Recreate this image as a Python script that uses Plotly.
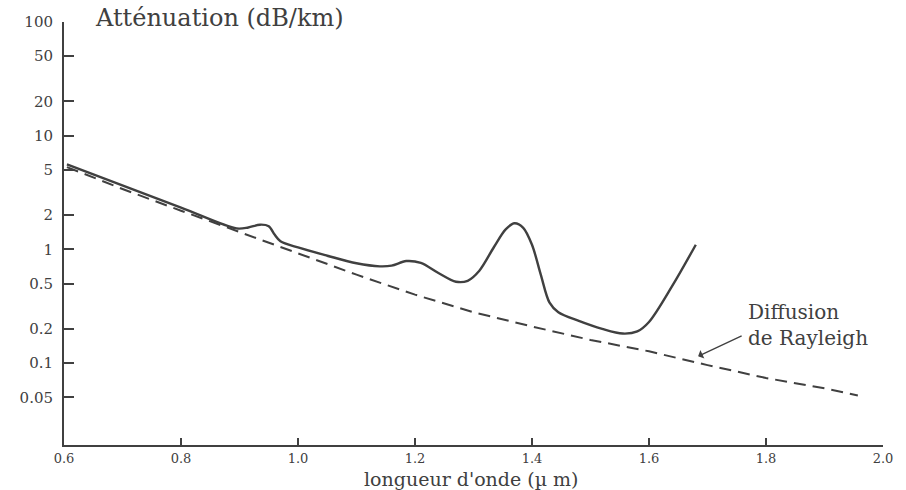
import plotly.graph_objects as go
import math

# Measured attenuation curve (dB/km) vs wavelength (µm)
wavelength_meas = [0.605, 0.80, 0.895, 0.915, 0.935, 0.950, 0.960, 0.970, 1.00, 1.05, 1.10,
                   1.14, 1.16, 1.185, 1.21, 1.24, 1.27, 1.29, 1.31, 1.335, 1.355, 1.37,
                   1.385, 1.40, 1.415, 1.43, 1.445, 1.48, 1.52, 1.555, 1.58, 1.60, 1.64, 1.68]
atten_meas = [5.6, 2.33, 1.53, 1.56, 1.65, 1.60, 1.35, 1.18, 1.04, 0.88, 0.755,
              0.71, 0.72, 0.79, 0.76, 0.62, 0.52, 0.53, 0.65, 1.05, 1.5, 1.70,
              1.55, 1.1, 0.6, 0.34, 0.28, 0.235, 0.20, 0.182, 0.19, 0.23, 0.48, 1.1]

# Rayleigh scattering limit
wavelength_ray = [0.605, 0.7, 0.8, 0.9, 1.0, 1.1, 1.2, 1.3, 1.4, 1.5, 1.6, 1.7, 1.8, 1.9, 1.957]
atten_ray = [5.3, 3.4, 2.19, 1.42, 0.93, 0.60, 0.40, 0.28, 0.21, 0.16, 0.127, 0.096, 0.074, 0.06, 0.052]

x_ticks = [0.6, 0.8, 1.0, 1.2, 1.4, 1.6, 1.8, 2.0]
x_ticktext = ["0.6", "0.8", "1.0", "1.2", "1.4", "1.6", "1.8", "2.0"]
y_ticks = [100, 50, 20, 10, 5, 2, 1, 0.5, 0.2, 0.1, 0.05]
y_ticktext = ["100", "50", "20", "10", "5", "2", "1", "0.5", "0.2", "0.1", "0.05"]

ink = "#404040"
serif = "DejaVu Serif, Liberation Serif, serif"

fig = go.Figure()
fig.add_trace(go.Scatter(
    x=wavelength_ray, y=atten_ray, mode="lines",
    line=dict(color=ink, width=2, dash="12px,7px"),
    hoverinfo="skip", showlegend=False))
fig.add_trace(go.Scatter(
    x=wavelength_meas, y=atten_meas, mode="lines",
    line=dict(color=ink, width=2.4, shape="spline", smoothing=0.9),
    hoverinfo="skip", showlegend=False))

fig.update_layout(
    width=906, height=490,
    margin=dict(l=64, r=23, t=22, b=45),
    paper_bgcolor="white", plot_bgcolor="white",
    font=dict(family=serif, color=ink, size=14),
    xaxis=dict(
        range=[0.6, 2.0], tickvals=x_ticks, ticktext=x_ticktext, automargin=False,
        showgrid=False, zeroline=False, showline=True, linecolor=ink, linewidth=2,
        ticks="inside", ticklen=7, tickwidth=1.5, tickcolor=ink,
        ticklabelstandoff=0, tickfont=dict(family=serif, size=13, color=ink)),
    yaxis=dict(
        type="log", range=[-1.72, 2.0], tickvals=y_ticks, ticktext=y_ticktext,
        automargin=False,
        showgrid=False, zeroline=False, showline=True, linecolor=ink, linewidth=2,
        ticks="inside", ticklen=10, tickwidth=1.5, tickcolor=ink,
        ticklabelstandoff=6, tickfont=dict(family=serif, size=15, color=ink)),
    annotations=[
        dict(text="Atténuation (dB/km)", xref="paper", yref="paper",
             x=0.036, y=1.01, xanchor="left", yanchor="middle", showarrow=False,
             font=dict(family=serif, size=24, color=ink)),
        dict(text="longueur d'onde (µ m)", xref="paper", yref="paper",
             x=0.498, y=-0.052, xanchor="center", yanchor="top", showarrow=False,
             borderpad=0, font=dict(family=serif, size=19, color=ink)),
        dict(text="Diffusion<br>de Rayleigh", xref="paper", yref="paper",
             x=0.833, y=0.284, xanchor="left", yanchor="middle", align="left",
             showarrow=False, font=dict(family=serif, size=20, color=ink)),
        dict(text="", x=1.684, y=math.log10(0.115), xref="x", yref="y",
             showarrow=True, ax=45, ay=-21, arrowhead=1, arrowsize=1.2,
             arrowwidth=1.3, arrowcolor=ink),
    ],
)

fig.write_html("out.html", config={"displayModeBar": False},
               post_script="document.body.style.margin='0';")
